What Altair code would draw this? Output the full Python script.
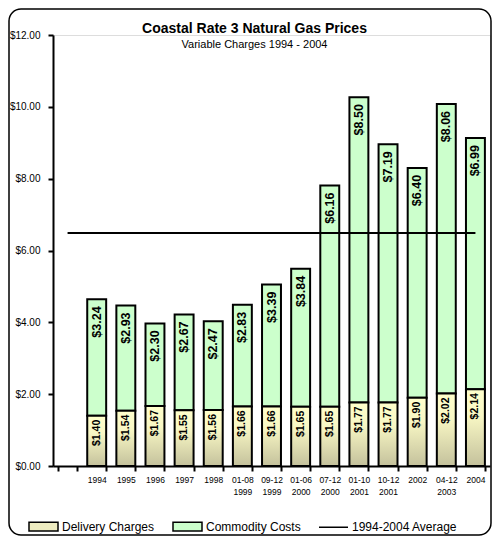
import altair as alt
import pandas as pd

# ---- data ----
categories = ["1994", "1995", "1996", "1997", "1998", "01-08 1999", "09-12 1999",
              "01-06 2000", "07-12 2000", "01-10 2001", "10-12 2001", "2002",
              "04-12 2003", "2004"]
delivery = [1.40, 1.54, 1.67, 1.55, 1.56, 1.66, 1.66, 1.65, 1.65, 1.77, 1.77, 1.90, 2.02, 2.14]
commodity = [3.24, 2.93, 2.30, 2.67, 2.47, 2.83, 3.39, 3.84, 6.16, 8.50, 7.19, 6.40, 8.06, 6.99]
average_value = 6.49
average_span = ["", "2004"]          # line runs from the empty first slot to the last bar
axis_slots = [""] + categories       # the chart keeps an empty slot before 1994
y_ticks = [0, 2, 4, 6, 8, 10, 12]
legend_labels = ["Delivery Charges", "Commodity Costs", "1994-2004 Average"]

FONT = "Liberation Sans"

df = pd.DataFrame({"category": categories, "delivery": delivery, "commodity": commodity})
avg_df = pd.DataFrame({"category": average_span, "value": [average_value] * len(average_span)})
legend_df = pd.DataFrame({"series": legend_labels})

x_enc = alt.X(
    "category:N",
    sort=axis_slots,
    scale=alt.Scale(domain=axis_slots, paddingInner=0.35, paddingOuter=0.175),
    axis=alt.Axis(
        title=None, labelAngle=0, labelExpr="split(datum.label, ' ')",
        tickBand="extent", domainColor="black", domainWidth=2, tickColor="black",
        tickWidth=2, tickSize=5, labelFont=FONT, labelFontSize=8.5, labelColor="black",
        labelPadding=4, labelLineHeight=12, labelBaseline="top",
    ),
)
y_scale = alt.Scale(domain=[0, 12], nice=False, zero=True)
y_axis = alt.Axis(
    title=None, values=y_ticks, format="$.2f", grid=False, domainColor="black",
    domainWidth=2, tickColor="black", tickWidth=2, tickSize=5, labelFont=FONT,
    labelFontSize=10, labelColor="black", labelPadding=8,
)

base = alt.Chart(df).transform_calculate(total="datum.delivery + datum.commodity")

commodity_bars = base.mark_bar(fill="#CCFFCC", stroke="black", strokeWidth=2).encode(
    x=x_enc,
    y=alt.Y("total:Q", scale=y_scale, axis=y_axis),
    y2="delivery:Q",
)

stipple = alt.Gradient(
    gradient="linear", x1=0, x2=0, y1=0, y2=1,
    stops=[alt.GradientStop(offset=0, color="#FFFFCC"),
           alt.GradientStop(offset=0.35, color="#F8F7C4"),
           alt.GradientStop(offset=1, color="#C4C19C")],
)
delivery_bars = base.mark_bar(fill=stipple, stroke="black", strokeWidth=2).encode(
    x=x_enc,
    y=alt.Y("delivery:Q", scale=y_scale, axis=y_axis),
)

commodity_text = base.mark_text(
    angle=270, align="right", baseline="middle", yOffset=7,
    font=FONT, fontSize=12.5, fontWeight="bold", color="black",
).encode(
    x=x_enc, y=alt.Y("total:Q", scale=y_scale),
    text=alt.Text("commodity:Q", format="$.2f"),
)

delivery_text = base.mark_text(
    angle=270, align="right", baseline="middle", yOffset=4,
    font=FONT, fontSize=10.5, fontWeight="bold", color="black",
).encode(
    x=x_enc, y=alt.Y("delivery:Q", scale=y_scale),
    text=alt.Text("delivery:Q", format="$.2f"),
)

avg_line = alt.Chart(avg_df).mark_line(color="black", strokeWidth=2).encode(
    x=x_enc, y=alt.Y("value:Q", scale=y_scale),
)

legend_def = alt.Legend(
    title=None, orient="none", legendX=-25, legendY=476, direction="horizontal",
    symbolSize=841, symbolStrokeWidth=1.5, labelFont=FONT, labelFontSize=12,
    labelColor="black", labelOffset=3, columnPadding=15, padding=0,
)
rect_path = "M-1,-0.3H1V0.3H-1Z"
legend_layer = alt.Chart(legend_df).transform_filter("false").mark_point(
    filled=True, opacity=1
).encode(
    fill=alt.Fill("series:N", scale=alt.Scale(domain=legend_labels,
                  range=["#EEECC0", "#CCFFCC", "black"]), legend=legend_def),
    shape=alt.Shape("series:N", scale=alt.Scale(domain=legend_labels,
                    range=[rect_path, rect_path, "stroke"]), legend=legend_def),
    stroke=alt.Stroke("series:N", scale=alt.Scale(domain=legend_labels,
                      range=["black", "black", "black"]), legend=legend_def),
)

frame = alt.Chart(alt.Data(values=[{}])).mark_rect(
    fillOpacity=0, stroke="black", strokeWidth=1.5, cornerRadius=12
).encode(
    x=alt.value(-44), x2=alt.value(438), y=alt.value(-26), y2=alt.value(500),
)

chart = alt.layer(
    frame, commodity_bars, delivery_bars, commodity_text, delivery_text, avg_line, legend_layer
).properties(
    width=437, height=431,
    title=alt.TitleParams(
        text="Coastal Rate 3 Natural Gas Prices", subtitle="Variable Charges 1994 - 2004",
        font=FONT, fontSize=14, fontWeight="bold", color="black",
        subtitleFont=FONT, subtitleFontSize=11, subtitleColor="black",
        anchor="middle", dx=-17, offset=-42, subtitlePadding=3,
    ),
    autosize=alt.AutoSizeParams(type="none"),
    padding={"left": 45, "top": 27, "right": 2, "bottom": 70},
).configure_view(stroke=None).configure(background="white")

chart.save("out.html", embed_options={"renderer": "svg", "actions": False})
